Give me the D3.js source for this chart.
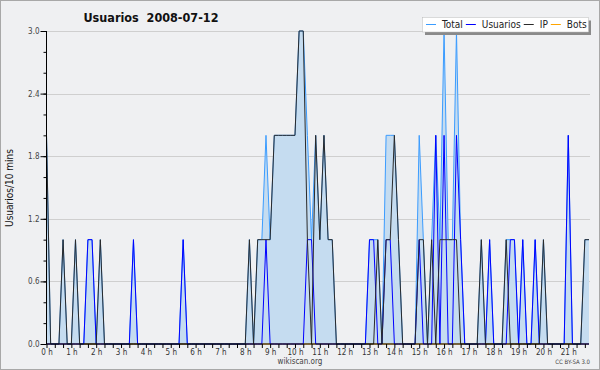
<!DOCTYPE html>
<html>
<head>
<meta charset="utf-8">
<script src="https://cdn.jsdelivr.net/npm/d3@7"></script>
<style>
  body { margin: 0; background: #fff; }
  svg { display: block; }
  text { font-family: "DejaVu Sans Condensed", "DejaVu Sans", sans-serif; }
</style>
</head>
<body>
<svg id="chart"></svg>
<script>
// one value every 10 minutes, 00:00 .. 21:50 (12 values = 2 hours per row)
const total = [
  2,0,0,0,1,0,0,1,0,0,1,1,
  0,1,0,0,0,0,0,0,0,1,0,0,
  0,0,0,0,0,0,0,0,0,1,0,0,
  0,0,0,0,0,0,0,0,0,0,0,0,
  0,1,0,1,1,2,1,2,2,2,2,2,
  2,3,3,2,1,2,1,2,1,1,0,0,
  0,0,0,0,0,0,1,1,1,0,2,2,
  2,1,0,0,0,0,2,1,0,1,2,1,
  3,1,1,3,1,0,0,0,0,1,0,1,
  0,0,0,1,1,1,0,1,0,0,1,0,
  1,0,0,0,0,0,2,0,0,0,1,1
];
const usuarios = [
  0,0,0,0,0,0,0,0,0,0,1,1,
  0,0,0,0,0,0,0,0,0,1,0,0,
  0,0,0,0,0,0,0,0,0,1,0,0,
  0,0,0,0,0,0,0,0,0,0,0,0,
  0,0,0,0,0,1,0,0,0,0,0,0,
  0,0,0,1,1,0,0,0,0,0,0,0,
  0,0,0,0,0,0,1,1,0,0,1,1,
  0,0,0,0,0,0,1,0,0,0,2,0,
  2,0,0,2,1,0,0,0,0,0,0,1,
  0,0,0,0,1,1,0,1,0,0,1,0,
  0,0,0,0,0,0,2,0,0,0,0,0
];
const ip = [
  2,0,0,0,1,0,0,1,0,0,0,0,
  0,1,0,0,0,0,0,0,0,0,0,0,
  0,0,0,0,0,0,0,0,0,0,0,0,
  0,0,0,0,0,0,0,0,0,0,0,0,
  0,1,0,1,1,1,1,2,2,2,2,2,
  2,3,3,1,0,2,1,2,1,1,0,0,
  0,0,0,0,0,0,0,0,1,0,1,1,
  2,1,0,0,0,0,1,1,0,1,0,1,
  1,1,1,1,0,0,0,0,0,1,0,0,
  0,0,0,1,0,0,0,0,0,0,0,0,
  1,0,0,0,0,0,0,0,0,0,1,1
];
const bots = [
  0,0,0,0,0,0,0,0,0,0,0,0,
  0,0,0,0,0,0,0,0,0,0,0,0,
  0,0,0,0,0,0,0,0,0,0,0,0,
  0,0,0,0,0,0,0,0,0,0,0,0,
  0,0,0,0,0,0,0,0,0,0,0,0,
  0,0,0,0,0,0,0,0,0,0,0,0,
  0,0,0,0,0,0,0,0,0,0,0,0,
  0,0,0,0,0,0,0,0,0,0,0,0,
  0,0,0,0,0,0,0,0,0,0,0,0,
  0,0,0,0,0,0,0,0,0,0,0,0,
  0,0,0,0,0,0,0,0,0,0,0,0
];
const seriesNames = ['Total', 'Usuarios', 'IP', 'Bots'];
const seriesColors = ['#3b9cff', '#0000ff', '#2a2a2a', '#ffa500'];
const yTicks = [0, 0.6, 1.2, 1.8, 2.4, 3.0];
const stepMinutes = 10;

const width = 600, height = 370;
const plotLeft = 46.5, plotRight = 589, plotTop = 31, plotBottom = 344;

const svg = d3.select('#chart')
  .attr('width', width)
  .attr('height', height);

// background and frame
svg.append('rect')
  .attr('x', 0.5).attr('y', 0.5)
  .attr('width', width - 1).attr('height', height - 1)
  .attr('fill', '#eff0f2')
  .attr('stroke', '#a8a8a8');

const lastMinute = (total.length - 1) * stepMinutes;
const x = d3.scaleLinear().domain([0, lastMinute]).range([plotLeft, plotRight]);
const y = d3.scaleLinear().domain([0, 3]).range([plotBottom, plotTop]);

// grid
svg.append('g')
  .selectAll('line')
  .data(yTicks.filter(d => d > 0))
  .join('line')
  .attr('x1', plotLeft).attr('x2', plotRight + 1)
  .attr('y1', d => Math.round(y(d)) + 0.5)
  .attr('y2', d => Math.round(y(d)) + 0.5)
  .attr('stroke', '#cfcfcf');

// filled area under total
const area = d3.area()
  .x((d, i) => x(i * stepMinutes))
  .y0(y(0))
  .y1(d => y(d));

svg.append('path')
  .datum(total)
  .attr('d', area)
  .attr('fill', '#c5dcf0');

const line = d3.line()
  .x((d, i) => x(i * stepMinutes))
  .y(d => y(d));

// bots first so it hides under the axis
[[bots, 3], [total, 0], [usuarios, 1], [ip, 2]].forEach(([data, k]) => {
  svg.append('path')
    .datum(data)
    .attr('d', line)
    .attr('fill', 'none')
    .attr('stroke', seriesColors[k])
    .attr('stroke-width', 1);
});

// y axis: minor and major ticks
const yMinor = d3.range(0, 3.001, 0.2);
svg.append('g')
  .attr('transform', 'translate(' + plotLeft + ',0)')
  .call(d3.axisLeft(y).tickValues(yMinor).tickSize(3).tickFormat(''))
  .call(g => g.select('.domain').remove());

const yAxis = svg.append('g')
  .attr('transform', 'translate(' + plotLeft + ',0)')
  .call(d3.axisLeft(y).tickValues(yTicks).tickSize(6).tickPadding(1).tickFormat(d3.format('.1f')));
yAxis.selectAll('text')
  .attr('font-family', '"DejaVu Sans Condensed", "DejaVu Sans", sans-serif')
  .attr('font-size', 8)
  .attr('fill', '#444');
yAxis.select('.domain').attr('d', 'M0,' + plotTop + 'V' + plotBottom);

// x axis: tick every 20 minutes, label every hour
const xAxis = svg.append('g')
  .attr('transform', 'translate(0,' + plotBottom + ')')
  .call(d3.axisBottom(x)
    .tickValues(d3.range(0, lastMinute + 1, 20))
    .tickSize(4)
    .tickPadding(1)
    .tickFormat(m => m % 60 === 0 ? (m / 60) + ' h' : ''));
xAxis.selectAll('text')
  .attr('font-family', '"DejaVu Sans Condensed", "DejaVu Sans", sans-serif')
  .attr('font-size', 8)
  .attr('fill', '#333');
xAxis.select('.domain').attr('d', 'M' + plotLeft + ',0H' + plotRight);

// title
svg.append('text')
  .attr('x', 151).attr('y', 21.5)
  .attr('text-anchor', 'middle')
  .attr('font-weight', 'bold')
  .attr('font-size', 12.5)
  .attr('fill', '#111')
  .attr('xml:space', 'preserve')
  .text('Usuarios  2008-07-12');

// y axis title
svg.append('text')
  .attr('transform', 'translate(13,188) rotate(-90)')
  .attr('text-anchor', 'middle')
  .attr('font-family', '"DejaVu Sans Mono", monospace')
  .attr('font-size', 10)
  .attr('fill', '#111')
  .text('Usuarios/10 mins');

// footer
svg.append('text')
  .attr('x', 300).attr('y', 364)
  .attr('text-anchor', 'middle')
  .attr('font-size', 8)
  .attr('fill', '#444')
  .text('wikiscan.org');

svg.append('text')
  .attr('x', 590).attr('y', 364)
  .attr('text-anchor', 'end')
  .attr('font-size', 6)
  .attr('fill', '#444')
  .text('CC BY-SA 3.0');

// legend
const legend = svg.append('g');
legend.append('rect')
  .attr('x', 425).attr('y', 20.5)
  .attr('width', 166).attr('height', 14.5)
  .attr('fill', '#8a8a8a');
legend.append('rect')
  .attr('x', 422.5).attr('y', 17.5)
  .attr('width', 166).attr('height', 14.5)
  .attr('fill', '#fff')
  .attr('stroke', '#bbb')
  .attr('stroke-width', 0.5);

let lx = 426;
seriesNames.forEach((name, k) => {
  legend.append('line')
    .attr('x1', lx).attr('x2', lx + 10)
    .attr('y1', 24.5).attr('y2', 24.5)
    .attr('stroke', seriesColors[k]);
  const t = legend.append('text')
    .attr('x', lx + 16).attr('y', 28.2)
    .attr('font-size', 10)
    .attr('fill', '#222')
    .text(name);
  lx += 16 + t.node().getComputedTextLength() + 3;
});
</script>
</body>
</html>
